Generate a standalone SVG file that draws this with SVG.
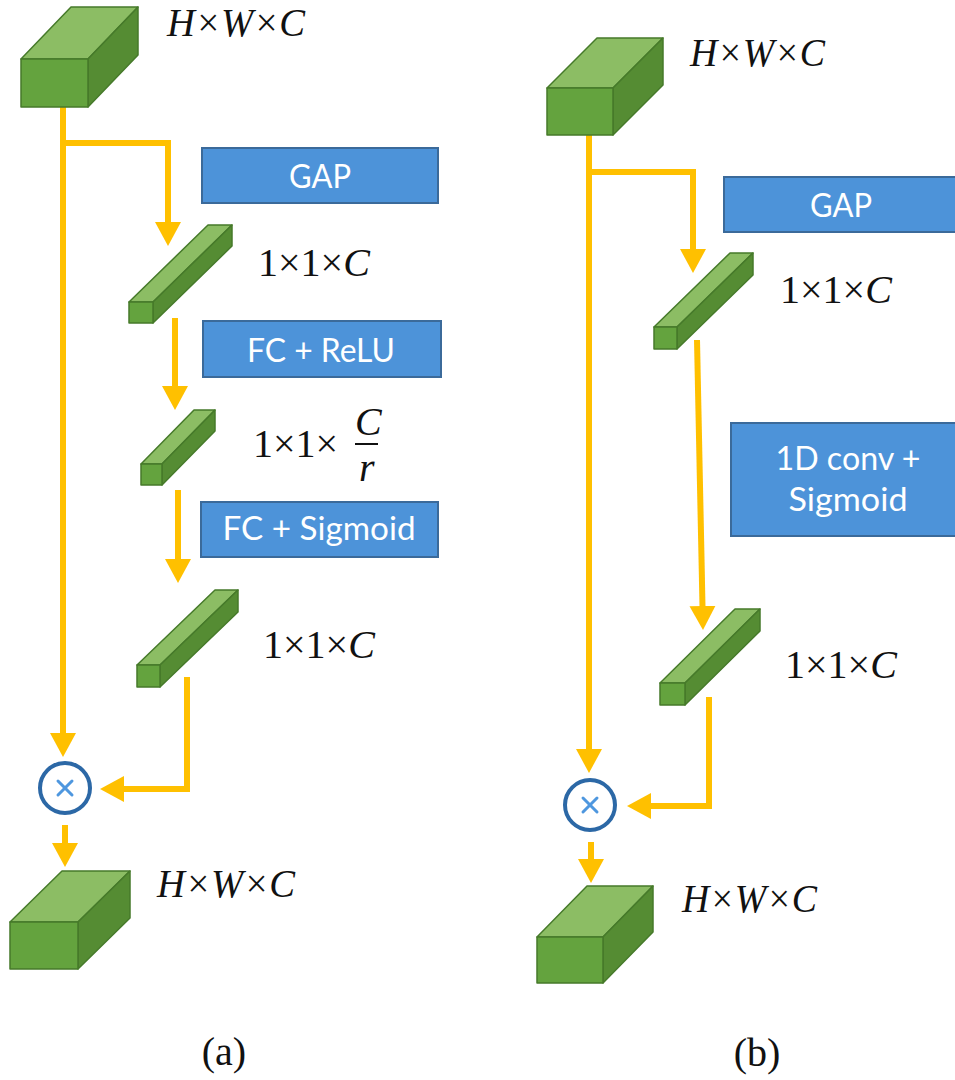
<svg xmlns="http://www.w3.org/2000/svg" width="955" height="1080" viewBox="0 0 955 1080">
<style>
.front{fill:#64a33e;stroke:#467a2a;stroke-width:1.5;stroke-linejoin:round}
.top{fill:#8cbd64;stroke:#467a2a;stroke-width:1.5;stroke-linejoin:round}
.side{fill:#558c33;stroke:#467a2a;stroke-width:1.5;stroke-linejoin:round}
.op{fill:#4d93d9;stroke:#3b6a9a;stroke-width:2}
.optxt{font-family:Lato,"Open Sans",sans-serif;font-size:32px;fill:#ffffff;text-anchor:middle}
.lbl{font-family:"Liberation Serif","Times New Roman",serif;font-size:40px;fill:#111111}
.it{font-style:italic}
.cap{font-family:"Liberation Serif","Times New Roman",serif;font-size:40px;fill:#111111;text-anchor:middle}
.conn{fill:none;stroke:#ffc000;stroke-width:6;stroke-linejoin:miter}
.mul{fill:#ffffff;stroke:#2c68a6;stroke-width:4}
.x{stroke:#4e97df;stroke-width:3;stroke-linecap:round}
</style>
<defs>
<marker id="ah" markerUnits="userSpaceOnUse" markerWidth="26" markerHeight="28" refX="10" refY="13" orient="auto" viewBox="0 0 26 28">
<path d="M0,0 L24,13 L0,26 z" fill="#ffc000"/>
</marker>
</defs>

<g id="connectors">
<path class="conn" d="M63,107 V743" marker-end="url(#ah)"/>
<path class="conn" d="M63,143 H168 V232" marker-end="url(#ah)"/>
<path class="conn" d="M175,318 V396" marker-end="url(#ah)"/>
<path class="conn" d="M178,490 V569" marker-end="url(#ah)"/>
<path class="conn" d="M187,677 V789 H114" marker-end="url(#ah)"/>
<path class="conn" d="M65,825 V853" marker-end="url(#ah)"/>
<path class="conn" d="M589,135 V759" marker-end="url(#ah)"/>
<path class="conn" d="M589,172 H693 V259" marker-end="url(#ah)"/>
<path class="conn" d="M697,340 L702.7,616" marker-end="url(#ah)"/>
<path class="conn" d="M709,697 V806 H641" marker-end="url(#ah)"/>
<path class="conn" d="M591,842 V869" marker-end="url(#ah)"/>
</g>

<!-- Panel (a) -->
<g id="a_input">
<polygon class="top" points="21,59 88,59 138,7 71,7"/>
<polygon class="side" points="88,59 138,7 138,55 88,107"/>
<rect class="front" x="21" y="59" width="67" height="48"/>
<text class="lbl it" x="167" y="36" textLength="138" lengthAdjust="spacingAndGlyphs">H×W×C</text>
</g>

<g id="a_gap">
<rect class="op" x="202" y="148" width="236" height="55"/>
<text class="optxt" x="320" y="188" textLength="62" lengthAdjust="spacingAndGlyphs">GAP</text>
</g>

<g id="a_vec1">
<polygon class="top" points="129,302 153,302 232,225 208,225"/>
<polygon class="side" points="153,302 232,225 232,246 153,323"/>
<rect class="front" x="129" y="302" width="24" height="21"/>
<text class="lbl" x="258" y="276">1×1×<tspan class="it">C</tspan></text>
</g>

<g id="a_fc_relu">
<rect class="op" x="203" y="321" width="238" height="56"/>
<text class="optxt" x="321" y="362" textLength="148" lengthAdjust="spacingAndGlyphs">FC + ReLU</text>
</g>

<g id="a_vec2">
<polygon class="top" points="141,464 162,464 215,410 194,410"/>
<polygon class="side" points="162,464 215,410 215,431 162,485"/>
<rect class="front" x="141" y="464" width="21" height="21"/>
<text class="lbl" x="253" y="457">1×1×</text>
<text class="lbl it" x="355" y="435" font-size="30">C</text>
<line x1="355" y1="444" x2="378" y2="444" stroke="#111111" stroke-width="2"/>
<text class="lbl it" x="359" y="481" font-size="30">r</text>
</g>

<g id="a_fc_sig">
<rect class="op" x="201" y="502" width="237" height="55"/>
<text class="optxt" x="319" y="540" textLength="193" lengthAdjust="spacingAndGlyphs">FC + Sigmoid</text>
</g>

<g id="a_vec3">
<polygon class="top" points="137,665 160,665 238,590 215,590"/>
<polygon class="side" points="160,665 238,590 238,612 160,687"/>
<rect class="front" x="137" y="665" width="23" height="22"/>
<text class="lbl" x="263" y="658">1×1×<tspan class="it">C</tspan></text>
</g>

<g id="a_mul">
<circle class="mul" cx="65" cy="788" r="25"/>
<line class="x" x1="58" y1="781" x2="72" y2="795"/>
<line class="x" x1="72" y1="781" x2="58" y2="795"/>
</g>

<g id="a_output">
<polygon class="top" points="10,922 78,922 130,871 62,871"/>
<polygon class="side" points="78,922 130,871 130,918 78,969"/>
<rect class="front" x="10" y="922" width="68" height="47"/>
<text class="lbl it" x="157" y="897" textLength="138" lengthAdjust="spacingAndGlyphs">H×W×C</text>
</g>

<text id="cap_a" class="cap" x="224" y="1065">(a)</text>

<!-- Panel (b) -->
<g id="b_input">
<polygon class="top" points="547,88 613,88 663,38 597,38"/>
<polygon class="side" points="613,88 663,38 663,85 613,135"/>
<rect class="front" x="547" y="88" width="66" height="47"/>
<text class="lbl it" x="690" y="66" textLength="135" lengthAdjust="spacingAndGlyphs">H×W×C</text>
</g>

<g id="b_gap">
<rect class="op" x="724" y="177" width="236" height="55"/>
<text class="optxt" x="841" y="217" textLength="62" lengthAdjust="spacingAndGlyphs">GAP</text>
</g>

<g id="b_vec1">
<polygon class="top" points="654,327 677,327 753,253 730,253"/>
<polygon class="side" points="677,327 753,253 753,275 677,349"/>
<rect class="front" x="654" y="327" width="23" height="22"/>
<text class="lbl" x="780" y="303">1×1×<tspan class="it">C</tspan></text>
</g>

<g id="b_conv">
<rect class="op" x="731" y="423" width="229" height="113"/>
<text class="optxt" x="848" y="470" textLength="145" lengthAdjust="spacingAndGlyphs">1D conv +</text>
<text class="optxt" x="848" y="511" textLength="119" lengthAdjust="spacingAndGlyphs">Sigmoid</text>
</g>

<g id="b_vec2">
<polygon class="top" points="660,683 685,683 760,609 735,609"/>
<polygon class="side" points="685,683 760,609 760,631 685,705"/>
<rect class="front" x="660" y="683" width="25" height="22"/>
<text class="lbl" x="785" y="678">1×1×<tspan class="it">C</tspan></text>
</g>

<g id="b_mul">
<circle class="mul" cx="590" cy="805" r="25"/>
<line class="x" x1="583" y1="798" x2="597" y2="812"/>
<line class="x" x1="597" y1="798" x2="583" y2="812"/>
</g>

<g id="b_output">
<polygon class="top" points="537,937 603,937 653,886 587,886"/>
<polygon class="side" points="603,937 653,886 653,932 603,983"/>
<rect class="front" x="537" y="937" width="66" height="46"/>
<text class="lbl it" x="682" y="912" textLength="135" lengthAdjust="spacingAndGlyphs">H×W×C</text>
</g>

<text id="cap_b" class="cap" x="757" y="1066">(b)</text>
</svg>
